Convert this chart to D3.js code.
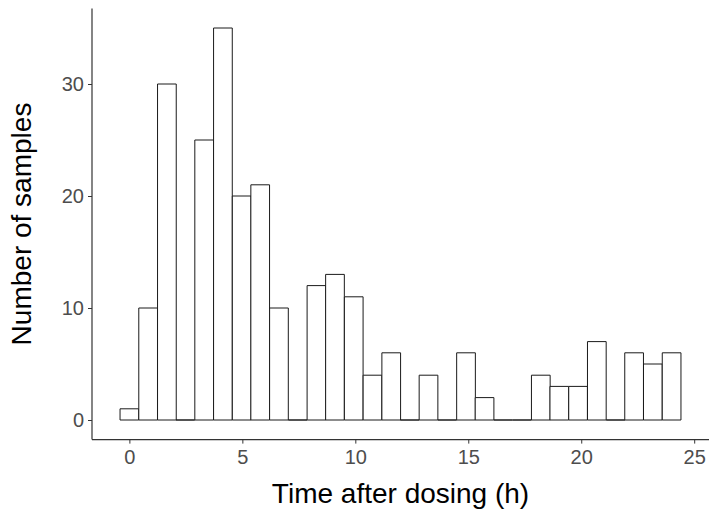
<!DOCTYPE html>
<html>
<head>
<meta charset="utf-8">
<script src="https://cdn.jsdelivr.net/npm/d3@7"></script>
<style>
  html, body { margin: 0; padding: 0; background: #fff; }
  svg { display: block; }
</style>
</head>
<body>
<svg id="chart" width="709" height="514"></svg>
<script>
// Histogram bins (centers, hours) and counts
const binCenters = [0, 0.83, 1.66, 2.48, 3.31, 4.14, 4.97, 5.79, 6.62, 7.45,
                    8.28, 9.10, 9.93, 10.76, 11.59, 12.41, 13.24, 14.07, 14.90, 15.72,
                    16.55, 17.38, 18.21, 19.03, 19.86, 20.69, 21.52, 22.34, 23.17, 24.00];
const binWidth = 0.8276;
const counts = [1, 10, 30, 0, 25, 35, 20, 21, 10, 0,
                12, 13, 11, 4, 6, 0, 4, 0, 6, 2,
                0, 0, 4, 3, 3, 7, 0, 6, 5, 6];
const xTicks = [0, 5, 10, 15, 20, 25];
const yTicks = [0, 10, 20, 30];
const xTitle = "Time after dosing (h)";
const yTitle = "Number of samples";

const svg = d3.select("#chart");
const pLeft = 92, pRight = 709, pTop = 8.4, pBottom = 439.6;

const x = d3.scaleLinear().domain([-1.655, 25.655]).range([pLeft, pRight]);
const y = d3.scaleLinear().domain([-1.75, 36.75]).range([pBottom, pTop]);

const font = "'Liberation Sans', Arial, sans-serif";

// bars (drawn as closed outlines so empty bins still show the baseline)
svg.append("g").selectAll("path")
  .data(binCenters.map((c, i) => ({c, n: counts[i]})))
  .join("path")
  .attr("d", d => {
    const x0 = x(d.c - binWidth / 2), x1 = x(d.c + binWidth / 2);
    const y0 = y(0), y1 = y(d.n);
    const p = d3.path();
    p.moveTo(x0, y0); p.lineTo(x0, y1); p.lineTo(x1, y1); p.lineTo(x1, y0); p.closePath();
    return p.toString();
  })
  .attr("fill", "#fff")
  .attr("stroke", "#1a1a1a")
  .attr("stroke-width", 1);

// x axis
const xAxis = svg.append("g")
  .attr("transform", `translate(0,${pBottom})`)
  .call(d3.axisBottom(x).tickValues(xTicks).tickSize(4).tickPadding(6).tickFormat(d3.format("d")));
xAxis.select(".domain").attr("stroke", "#333").attr("stroke-width", 1.2)
  .attr("d", `M${pLeft},0H${pRight}`);
xAxis.selectAll(".tick line").attr("stroke", "#333");
xAxis.selectAll(".tick text").attr("fill", "#4d4d4d")
  .style("font-family", font).style("font-size", "20px");

// y axis
const yAxis = svg.append("g")
  .attr("transform", `translate(${pLeft},0)`)
  .call(d3.axisLeft(y).tickValues(yTicks).tickSize(4).tickPadding(4).tickFormat(d3.format("d")));
yAxis.select(".domain").attr("stroke", "#333").attr("stroke-width", 1.2)
  .attr("d", `M0,${pTop}V${pBottom}`);
yAxis.selectAll(".tick line").attr("stroke", "#333");
yAxis.selectAll(".tick text").attr("fill", "#4d4d4d")
  .style("font-family", font).style("font-size", "20px");

// titles
svg.append("text")
  .attr("x", (pLeft + pRight) / 2)
  .attr("y", 503)
  .attr("text-anchor", "middle")
  .style("font-family", font).style("font-size", "28px")
  .attr("fill", "#000")
  .text(xTitle);

svg.append("text")
  .attr("transform", `translate(31,${(pTop + pBottom) / 2}) rotate(-90)`)
  .attr("text-anchor", "middle")
  .style("font-family", font).style("font-size", "28px")
  .attr("fill", "#000")
  .text(yTitle);
</script>
</body>
</html>
